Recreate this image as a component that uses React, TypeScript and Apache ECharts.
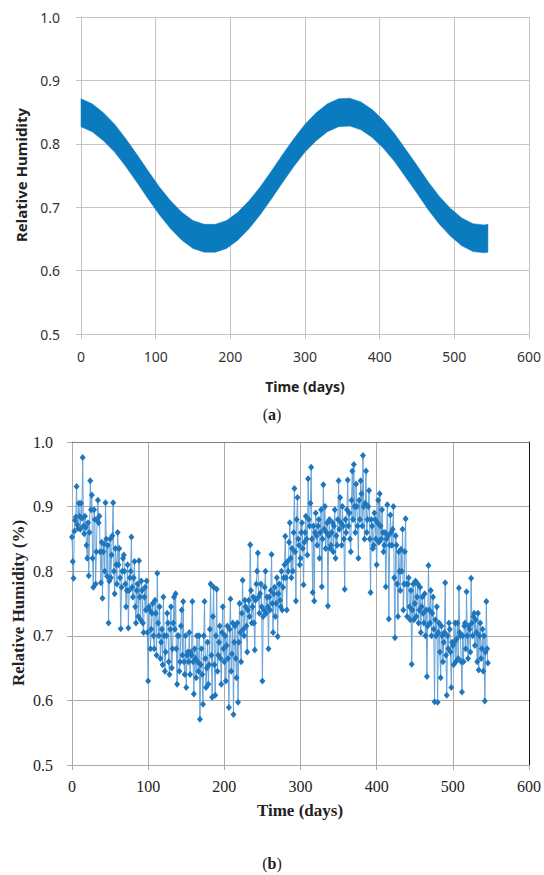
import React, { useEffect, useRef } from "react";
import * as echarts from "echarts";

// ---- Panel (a): modelled relative humidity band (envelope)
const bandDays = [0, 15, 30, 45, 60, 75, 90, 105, 120, 135, 150, 165, 180, 195, 210, 225, 240, 255, 270, 285, 300, 315, 330, 345, 360, 375, 390, 405, 420, 435, 450, 465, 480, 495, 510, 525, 540, 545];
const bandUpper = [0.871, 0.863, 0.849, 0.831, 0.808, 0.783, 0.757, 0.732, 0.710, 0.692, 0.679, 0.673, 0.673, 0.679, 0.692, 0.710, 0.732, 0.757, 0.783, 0.808, 0.831, 0.849, 0.863, 0.871, 0.872, 0.866, 0.854, 0.837, 0.816, 0.791, 0.766, 0.740, 0.717, 0.698, 0.683, 0.674, 0.672, 0.673];
const bandLower = [0.827, 0.819, 0.805, 0.787, 0.764, 0.739, 0.713, 0.688, 0.666, 0.648, 0.635, 0.629, 0.629, 0.635, 0.648, 0.666, 0.688, 0.713, 0.739, 0.764, 0.787, 0.805, 0.819, 0.827, 0.828, 0.822, 0.810, 0.793, 0.772, 0.747, 0.722, 0.696, 0.673, 0.654, 0.639, 0.630, 0.628, 0.629];

// ---- Panel (b): measured relative humidity, one reading per day from day 0 (20 per row)
const measStep = 1;
const measValues = [
  0.853, 0.815, 0.789, 0.862, 0.879, 0.884, 0.931, 0.872, 0.866, 0.905, 0.885, 0.865, 0.905, 0.882, 0.976, 0.870, 0.858, 0.885, 0.868, 0.840,
  0.820, 0.875, 0.793, 0.860, 0.940, 0.895, 0.918, 0.820, 0.775, 0.895, 0.880, 0.780, 0.830, 0.880, 0.910, 0.875, 0.885, 0.830, 0.782, 0.845,
  0.758, 0.830, 0.842, 0.800, 0.906, 0.850, 0.792, 0.840, 0.720, 0.785, 0.850, 0.790, 0.825, 0.855, 0.906, 0.800, 0.765, 0.835, 0.810, 0.780,
  0.860, 0.810, 0.835, 0.790, 0.711, 0.775, 0.800, 0.820, 0.825, 0.800, 0.780, 0.745, 0.770, 0.810, 0.712, 0.770, 0.790, 0.800, 0.853, 0.775,
  0.760, 0.790, 0.815, 0.745, 0.720, 0.770, 0.780, 0.730, 0.816, 0.760, 0.725, 0.785, 0.770, 0.720, 0.705, 0.760, 0.775, 0.740, 0.785, 0.705,
  0.630, 0.745, 0.740, 0.680, 0.710, 0.735, 0.750, 0.700, 0.680, 0.755, 0.735, 0.670, 0.797, 0.720, 0.700, 0.745, 0.665, 0.690, 0.710, 0.655,
  0.760, 0.700, 0.645, 0.675, 0.700, 0.735, 0.720, 0.660, 0.640, 0.710, 0.745, 0.650, 0.680, 0.720, 0.760, 0.710, 0.765, 0.680, 0.625, 0.700,
  0.700, 0.645, 0.660, 0.715, 0.740, 0.670, 0.753, 0.660, 0.640, 0.700, 0.620, 0.670, 0.675, 0.660, 0.705, 0.640, 0.675, 0.670, 0.753, 0.660,
  0.610, 0.680, 0.665, 0.635, 0.700, 0.660, 0.645, 0.700, 0.571, 0.655, 0.680, 0.640, 0.594, 0.700, 0.753, 0.665, 0.620, 0.650, 0.690, 0.625,
  0.655, 0.710, 0.780, 0.670, 0.605, 0.730, 0.775, 0.655, 0.608, 0.700, 0.772, 0.645, 0.670, 0.690, 0.715, 0.665, 0.625, 0.705, 0.745, 0.680,
  0.660, 0.700, 0.630, 0.685, 0.715, 0.665, 0.589, 0.710, 0.757, 0.645, 0.672, 0.720, 0.578, 0.690, 0.715, 0.665, 0.635, 0.720, 0.597, 0.690,
  0.750, 0.705, 0.660, 0.735, 0.786, 0.710, 0.700, 0.755, 0.745, 0.715, 0.675, 0.740, 0.755, 0.730, 0.841, 0.770, 0.720, 0.745, 0.760, 0.720,
  0.678, 0.755, 0.780, 0.800, 0.828, 0.760, 0.735, 0.765, 0.780, 0.745, 0.630, 0.730, 0.740, 0.775, 0.800, 0.735, 0.760, 0.745, 0.680, 0.760,
  0.740, 0.770, 0.826, 0.750, 0.705, 0.765, 0.775, 0.730, 0.750, 0.790, 0.699, 0.765, 0.780, 0.755, 0.745, 0.800, 0.740, 0.775, 0.790, 0.810,
  0.854, 0.790, 0.740, 0.815, 0.800, 0.845, 0.875, 0.820, 0.790, 0.835, 0.800, 0.860, 0.928, 0.830, 0.754, 0.880, 0.914, 0.850, 0.840, 0.810,
  0.820, 0.860, 0.875, 0.835, 0.779, 0.845, 0.860, 0.885, 0.850, 0.825, 0.943, 0.880, 0.870, 0.905, 0.961, 0.850, 0.767, 0.870, 0.754, 0.860,
  0.890, 0.855, 0.840, 0.870, 0.880, 0.820, 0.860, 0.895, 0.776, 0.850, 0.934, 0.865, 0.900, 0.835, 0.860, 0.875, 0.746, 0.855, 0.880, 0.835,
  0.840, 0.860, 0.875, 0.830, 0.870, 0.895, 0.820, 0.855, 0.840, 0.880, 0.940, 0.865, 0.914, 0.875, 0.840, 0.900, 0.870, 0.850, 0.772, 0.880,
  0.860, 0.895, 0.941, 0.870, 0.890, 0.850, 0.830, 0.910, 0.955, 0.880, 0.965, 0.900, 0.860, 0.935, 0.900, 0.870, 0.820, 0.910, 0.880, 0.940,
  0.920, 0.870, 0.979, 0.900, 0.850, 0.905, 0.955, 0.860, 0.880, 0.900, 0.925, 0.850, 0.767, 0.880, 0.870, 0.835, 0.840, 0.890, 0.880, 0.850,
  0.810, 0.875, 0.910, 0.845, 0.920, 0.870, 0.850, 0.895, 0.860, 0.830, 0.840, 0.860, 0.776, 0.850, 0.903, 0.855, 0.726, 0.840, 0.887, 0.860,
  0.840, 0.865, 0.900, 0.790, 0.697, 0.855, 0.840, 0.780, 0.730, 0.830, 0.800, 0.770, 0.834, 0.800, 0.865, 0.740, 0.780, 0.830, 0.881, 0.780,
  0.730, 0.780, 0.790, 0.745, 0.725, 0.770, 0.656, 0.740, 0.780, 0.725, 0.750, 0.785, 0.730, 0.760, 0.780, 0.720, 0.740, 0.775, 0.705, 0.745,
  0.760, 0.735, 0.720, 0.765, 0.700, 0.740, 0.637, 0.715, 0.809, 0.740, 0.720, 0.770, 0.700, 0.735, 0.760, 0.710, 0.598, 0.725, 0.700, 0.745,
  0.597, 0.705, 0.720, 0.675, 0.635, 0.715, 0.700, 0.660, 0.690, 0.705, 0.782, 0.670, 0.608, 0.700, 0.680, 0.720, 0.710, 0.675, 0.620, 0.690,
  0.685, 0.655, 0.690, 0.720, 0.660, 0.695, 0.720, 0.665, 0.774, 0.705, 0.700, 0.660, 0.613, 0.700, 0.660, 0.715, 0.720, 0.680, 0.768, 0.700,
  0.665, 0.715, 0.710, 0.675, 0.789, 0.720, 0.700, 0.730, 0.735, 0.685, 0.725, 0.705, 0.660, 0.735, 0.647, 0.700, 0.720, 0.665, 0.680, 0.710,
  0.645, 0.700, 0.599, 0.675, 0.753, 0.680, 0.658,
];

const xTicks = { min: 0, max: 600, interval: 100 };
const yTicks = { min: 0.5, max: 1.0, interval: 0.1 };

const SANS = '"Noto Sans", "Open Sans", sans-serif';
const SERIF = '"Liberation Serif", "Times New Roman", serif';

export default function App() {
  const ref = useRef<HTMLDivElement>(null);

  useEffect(() => {
    if (!ref.current) return;
    const chart = echarts.init(ref.current, null, { renderer: "svg" });

    const meas = measValues.map((v, i) => [i * measStep, v]);
    const bandData = bandDays.map((d, i) => [d, bandLower[i], bandUpper[i]]);

    const gridA = "#C4C4C4";
    const gridB = "#ABABAB";

    const textStyle = (font: string, extra: any = {}) => ({
      font,
      fill: "#222",
      textAlign: "center",
      textVerticalAlign: "middle",
      align: "center",
      verticalAlign: "middle",
      ...extra,
    });

    chart.setOption({
      animation: false,
      backgroundColor: "#ffffff",
      grid: [
        { left: 81, top: 17, width: 450, height: 317, containLabel: false },
        { left: 72, top: 442, width: 459, height: 323, containLabel: false },
      ],
      xAxis: [
        {
          gridIndex: 0,
          type: "value",
          ...xTicks,
          axisLine: { show: true, onZero: false, lineStyle: { color: gridA } },
          axisTick: { show: true, length: 5, lineStyle: { color: gridA } },
          axisLabel: { margin: 15, fontFamily: SANS, fontSize: 14, color: "#333" },
          splitLine: { show: true, lineStyle: { color: gridA, width: 1 } },
        },
        {
          gridIndex: 1,
          type: "value",
          ...xTicks,
          axisLine: { show: true, onZero: false, lineStyle: { color: gridB } },
          axisTick: { show: true, length: 5, lineStyle: { color: gridB } },
          axisLabel: { margin: 13, fontFamily: SERIF, fontSize: 16, color: "#222" },
          splitLine: { show: true, lineStyle: { color: gridB, width: 1 } },
        },
        {
          gridIndex: 1,
          type: "value",
          position: "top",
          ...xTicks,
          axisLine: { show: true, onZero: false, lineStyle: { color: "#808080" } },
          axisTick: { show: false },
          axisLabel: { show: false },
          splitLine: { show: false },
        },
      ],
      yAxis: [
        {
          gridIndex: 0,
          type: "value",
          ...yTicks,
          axisLine: { show: true, onZero: false, lineStyle: { color: gridA } },
          axisTick: { show: true, length: 5, lineStyle: { color: gridA } },
          axisLabel: {
            margin: 21,
            fontFamily: SANS,
            fontSize: 14,
            color: "#333",
            formatter: (v: number) => v.toFixed(1),
          },
          splitLine: { show: true, lineStyle: { color: gridA, width: 1 } },
        },
        {
          gridIndex: 1,
          type: "value",
          ...yTicks,
          axisLine: { show: true, onZero: false, lineStyle: { color: gridB } },
          axisTick: { show: true, length: 5, lineStyle: { color: gridB } },
          axisLabel: {
            margin: 19,
            fontFamily: SERIF,
            fontSize: 16,
            color: "#222",
            formatter: (v: number) => v.toFixed(1),
          },
          splitLine: { show: true, lineStyle: { color: gridB, width: 1 } },
        },
        {
          gridIndex: 1,
          type: "value",
          position: "right",
          ...yTicks,
          axisLine: { show: true, onZero: false, lineStyle: { color: "#111" } },
          axisTick: { show: false },
          axisLabel: { show: false },
          splitLine: { show: false },
        },
      ],
      series: [
        {
          type: "custom",
          xAxisIndex: 0,
          yAxisIndex: 0,
          data: bandData,
          encode: { x: 0, y: [1, 2] },
          silent: true,
          renderItem: (params: any, api: any) => {
            if (params.dataIndex !== 0) return null;
            const top = bandDays.map((d, i) => api.coord([d, bandUpper[i]]));
            const bottom = bandDays
              .map((d, i) => api.coord([d, bandLower[i]]))
              .reverse();
            return {
              type: "polygon",
              shape: { points: top.concat(bottom) },
              style: { fill: "#0B7BC0", stroke: "#0B7BC0", lineWidth: 0.5 },
            };
          },
        },
        {
          type: "line",
          xAxisIndex: 1,
          yAxisIndex: 1,
          data: meas,
          symbol: "diamond",
          symbolSize: [6, 7],
          showSymbol: true,
          itemStyle: { color: "#1E77BD" },
          lineStyle: { color: "#66A2D9", width: 1 },
          silent: true,
        },
      ],
      graphic: [
        {
          type: "text",
          x: 21,
          y: 175,
          rotation: Math.PI / 2,
          style: textStyle(`bold 15px ${SANS}`, { text: "Relative Humidity" }),
        },
        {
          type: "text",
          x: 305,
          y: 386,
          style: textStyle(`bold 14px ${SANS}`, { text: "Time (days)" }),
        },
        {
          type: "text",
          x: 272,
          y: 414,
          style: textStyle(`16px ${SERIF}`, {
            text: "{p|(}{b|a}{p|)}",
            rich: {
              p: { font: `16px ${SERIF}`, fill: "#222", color: "#222" },
              b: { font: `bold 16px ${SERIF}`, fill: "#222", color: "#222" },
            },
          }),
        },
        {
          type: "text",
          x: 18,
          y: 603,
          rotation: Math.PI / 2,
          style: textStyle(`bold 17px ${SERIF}`, { text: "Relative Humidity (%)" }),
        },
        {
          type: "text",
          x: 300,
          y: 810,
          style: textStyle(`bold 17px ${SERIF}`, { text: "Time (days)" }),
        },
        {
          type: "text",
          x: 272,
          y: 863,
          style: textStyle(`16px ${SERIF}`, {
            text: "{p|(}{b|b}{p|)}",
            rich: {
              p: { font: `16px ${SERIF}`, fill: "#222", color: "#222" },
              b: { font: `bold 16px ${SERIF}`, fill: "#222", color: "#222" },
            },
          }),
        },
      ],
    });

    return () => chart.dispose();
  }, []);

  return (
    <div
      ref={ref}
      style={{ position: "fixed", left: 0, top: 0, width: 544, height: 875, background: "#fff" }}
    />
  );
}
